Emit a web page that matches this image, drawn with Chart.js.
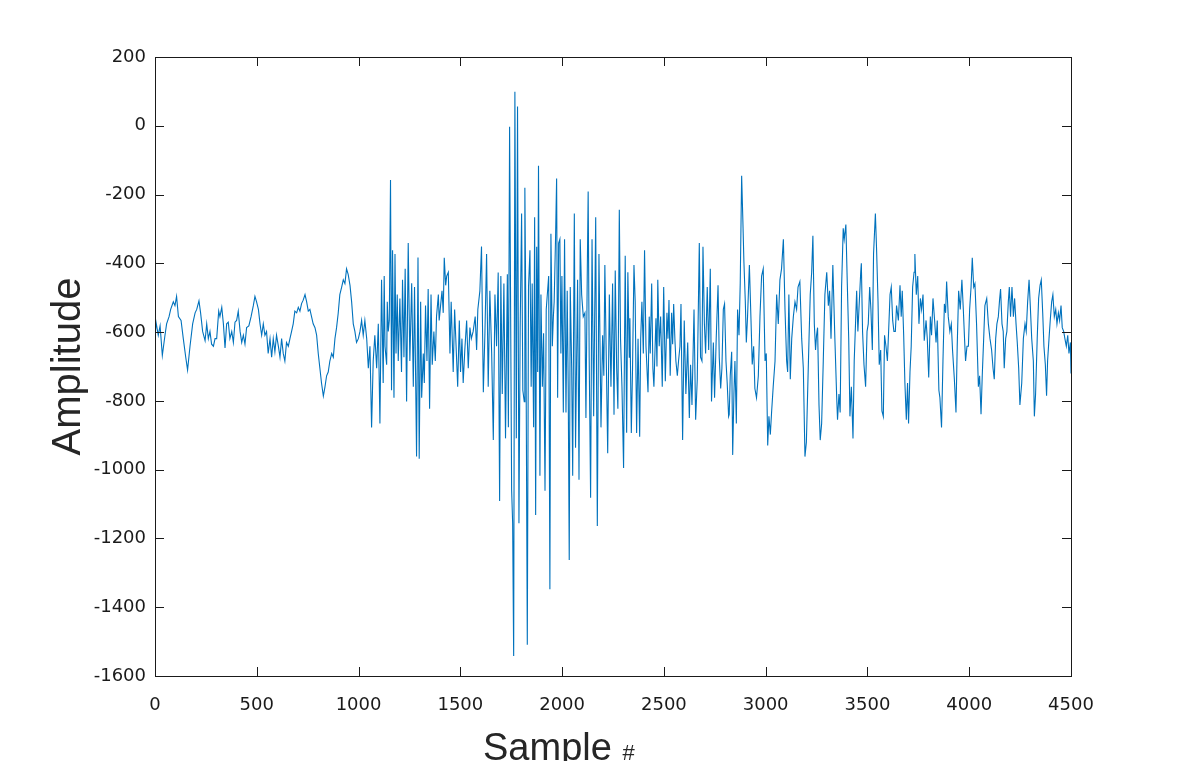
<!DOCTYPE html>
<html>
<head>
<meta charset="utf-8">
<script src="https://cdn.jsdelivr.net/npm/chart.js@4.4.0/dist/chart.umd.min.js"></script>
<style>
  html, body { margin: 0; padding: 0; background: #fff; }
  #wrap { width: 1184px; height: 761px; position: relative; }
</style>
</head>
<body>
<div id="wrap"><canvas id="wave"></canvas></div>
<script>
// waveform turning points (sample index, amplitude)
const sampleIdx = [
  0,5,16,25,36,49,57,69,77,90,98,106,115,128,139,151,160,172,185,197,205,216,224,234,246,254,262,270,278,287,295,303,313,319,328,336,344,352,360,368,377,385,393,401,409,418,426,434,442,450,461,472,483,491,499,508,516,524,532,
  540,548,556,565,573,581,589,597,606,614,622,630,638,646,655,663,671,679,687,696,704,712,720,728,737,745,753,761,769,777,786,794,802,810,818,827,835,843,851,859,868,876,884,892,900,908,917,925,933,941,949,958,966,974,982,990,999,1007,1015,1023,1031,1040,1048,1056,1064,1072,1080,1089,1097,1105,1113,1121,1126,
  1130,1138,1141,1146,1151,1157,1162,1167,1174,1179,1184,1190,1195,1203,1211,1216,1223,1229,1236,1244,1252,1261,1269,1275,1285,1292,1298,1305,1310,1318,1323,1329,1336,1342,1349,1356,1362,1370,1377,1383,1392,1396,1403,1410,1416,1421,1428,1433,1441,1449,1455,1465,1472,1482,1487,1495,1501,1508,1514,1522,1531,1539,1547,1554,1563,1573,1580,1586,1596,1604,1613,1621,1629,1637,1645,1654,1662,1670,1678,1686,1693,
  1699,1706,1714,1722,1731,1736,1742,1752,1757,1762,1768,1775,1781,1788,1794,1801,1807,1814,1817,1822,1829,1835,1842,1848,1853,1860,1865,1870,1875,1880,1884,1891,1896,1903,1909,1916,1922,1934,1940,1945,1952,1957,1961,1968,1973,1978,1983,1989,1994,1999,2006,2012,2019,2025,2030,2035,2040,2047,2052,2060,2066,2076,2083,2089,2096,2104,2112,2117,2124,2128,2133,2140,2147,2155,2165,2173,2181,2191,2199,2205,2210,2224,2232,2240,2248,2255,
  2261,2268,2274,2281,2287,2294,2302,2310,2317,2323,2330,2333,2340,2346,2353,2359,2366,2373,2381,2386,2392,2399,2405,2412,2422,2428,2433,2440,2446,2451,2461,2466,2470,2477,2484,2492,2499,2507,2515,2520,2525,2531,2538,2543,2548,2554,2559,2566,2572,2579,2584,2592,2600,2608,2617,2625,2631,2638,2648,2656,2664,2674,2680,2687,2692,2699,2705,2713,2720,2728,2734,2743,2749,2757,2766,2772,2779,2785,2792,2798,2805,2811,2818,
  2821,2826,2833,2838,2844,2849,2856,2862,2869,2875,2882,2888,2893,2900,2905,2911,2920,2928,2934,2941,2947,2955,2964,2972,2980,2988,2997,3003,3010,3016,3023,3029,3037,3046,3054,3062,3070,3078,3087,3095,3103,3108,3114,3121,3128,3136,3144,3152,3159,3168,3177,3185,3193,3200,3206,3213,3219,3226,3232,3239,3245,3250,3255,3262,3268,3275,3283,3291,3300,3308,3314,3321,3330,3340,3349,3353,3360,3366,3373,3381,3386,
  3394,3401,3408,3414,3421,3429,3435,3442,3447,3453,3460,3467,3470,3476,3483,3491,3498,3504,3511,3517,3524,3530,3539,3545,3552,3558,3565,3571,3578,3584,3591,3598,3604,3611,3617,3624,3630,3637,3643,3652,3660,3666,3671,3678,3684,3691,3697,3702,3709,3715,3722,3729,3733,3740,3747,3753,3760,3766,3773,3779,3788,3794,3801,3809,3815,3822,3830,3837,3843,3851,3856,3864,3871,3878,3884,3889,3897,3905,3912,3918,3927,3935,3941,3948,
  3956,3964,3971,3977,3982,3989,3996,4002,4009,4015,4022,4028,4036,4045,4051,4058,4064,4071,4077,4086,4094,4102,4110,4117,4123,4130,4136,4143,4149,4154,4161,4167,4172,4179,4185,4192,4197,4203,4210,4217,4223,4230,4236,4243,4249,4258,4266,4274,4280,4287,4294,4300,4307,4315,4320,4326,4334,4341,4348,4354,4361,4367,4374,4380,4385,4392,4398,4405,4411,4418,4425,4431,4438,4444,4451,4457,4464,4470,4477,4484,4490,4497,4500
];
const amplitude = [
  -619,-571,-609,-582,-668,-609,-576,-555,-534,-512,-523,-496,-555,-566,-619,-673,-710,-641,-576,-544,-534,-509,-544,-598,-625,-576,-619,-598,-635,-641,-619,-619,-539,-555,-528,-576,-646,-576,-571,-619,-598,-630,-571,-566,-539,-598,-630,-609,-635,-587,-582,-555,-523,-496,-512,-534,-576,-609,-576,
  -609,-598,-662,-619,-673,-619,-657,-609,-641,-673,-619,-662,-684,-630,-641,-619,-598,-576,-539,-544,-528,-539,-517,-507,-491,-512,-539,-534,-555,-576,-587,-609,-662,-705,-748,-786,-759,-727,-716,-684,-662,-673,-619,-587,-545,-491,-469,-448,-459,-416,-432,-464,-512,-576,-598,-630,-619,-598,-566,-609,-566,-619,-705,-641,-877,-684,-609,-705,-576,-866,-448,-748,-437,
  -641,-695,-512,-598,-566,-158,-769,-362,-791,-373,-662,-491,-684,-502,-716,-448,-673,-416,-802,-341,-684,-458,-759,-469,-962,-383,-968,-512,-791,-662,-748,-523,-684,-475,-823,-491,-695,-598,-684,-555,-491,-566,-523,-480,-544,-384,-464,-437,-426,-662,-512,-716,-534,-684,-759,-566,-716,-619,-748,-652,-566,-705,-587,-619,-598,-555,-652,-534,-480,-351,-775,-598,-373,-759,-480,-662,-914,-491,-641,-427,-1091,
  -437,-780,-459,-909,-432,-877,-3,-1059,-1156,-1542,99,-909,56,-1156,-587,-255,-769,-802,-180,-566,-1509,-469,-362,-759,-459,-877,-266,-1132,-352,-716,-116,-1018,-491,-759,-603,-1061,-534,-437,-1348,-314,-641,-555,-512,-320,-153,-791,-341,-330,-662,-437,-834,-330,-834,-480,-759,-1263,-469,-705,-1018,-255,-936,-448,-1029,-330,-491,-555,-544,-850,-405,-191,-673,-1082,-330,-845,-266,-1164,-373,-877,-609,-727,-405,-952,-491,-759,-459,-840,
  -421,-705,-823,-244,-619,-759,-995,-378,-893,-426,-673,-560,-893,-705,-405,-512,-893,-619,-904,-619,-512,-662,-362,-641,-775,-555,-662,-459,-705,-759,-560,-700,-448,-641,-555,-759,-469,-743,-544,-619,-507,-727,-544,-635,-518,-619,-684,-727,-684,-641,-518,-914,-566,-780,-630,-850,-695,-812,-534,-855,-737,-341,-673,-684,-352,-576,-662,-469,-652,-416,-802,-630,-791,-619,-464,-673,-764,-705,-534,-518,-684,-748,-845,
  -839,-727,-657,-957,-780,-684,-866,-534,-609,-459,-145,-276,-394,-512,-630,-555,-405,-566,-694,-641,-764,-791,-727,-555,-437,-416,-684,-662,-930,-845,-898,-834,-759,-684,-491,-576,-448,-416,-330,-534,-684,-716,-491,-737,-619,-555,-512,-534,-469,-453,-619,-705,-962,-920,-780,-619,-491,-426,-320,-576,-652,-609,-587,-812,-914,-866,-684,-491,-426,-523,-480,-619,-405,-619,-791,-855,-780,-834,-469,-298,-330,
  -287,-459,-619,-845,-759,-909,-684,-566,-480,-598,-512,-426,-400,-598,-695,-759,-598,-576,-469,-534,-652,-373,-255,-362,-512,-695,-652,-829,-845,-609,-641,-684,-598,-491,-469,-566,-598,-598,-523,-566,-464,-555,-480,-609,-748,-855,-748,-866,-716,-641,-469,-426,-373,-491,-437,-576,-502,-534,-491,-625,-566,-619,-732,-555,-609,-502,-566,-630,-566,-769,-791,-877,-684,-518,-544,-453,-555,-598,-576,-652,-737,-834,-641,-480,
  -534,-448,-534,-619,-684,-641,-641,-534,-469,-384,-469,-459,-576,-759,-727,-839,-727,-619,-523,-502,-576,-619,-652,-705,-737,-619,-576,-555,-507,-475,-576,-598,-705,-619,-598,-512,-469,-555,-469,-555,-502,-576,-630,-705,-812,-748,-619,-576,-598,-512,-448,-523,-619,-684,-845,-780,-619,-502,-464,-448,-544,-641,-695,-785,-684,-619,-566,-512,-491,-555,-534,-576,-544,-566,-523,-587,-598,-619,-641,-609,-662,-630,-720
];
const xTicks = [0, 500, 1000, 1500, 2000, 2500, 3000, 3500, 4000, 4500];
const yTicks = [-1600, -1400, -1200, -1000, -800, -600, -400, -200, 0, 200];

const points = sampleIdx.map((s, i) => ({ x: s, y: amplitude[i] }));
const ink = '#1a1a1a';

// MATLAB style box with inward ticks plus the two axis titles
const frame = {
  id: 'frame',
  afterDraw(chart) {
    const { ctx, chartArea: a, scales } = chart;
    ctx.save();
    ctx.strokeStyle = ink;
    ctx.lineWidth = 1;
    ctx.strokeRect(a.left + 0.5, a.top + 0.5, a.right - a.left, a.bottom - a.top);
    ctx.beginPath();
    xTicks.forEach(v => {
      const px = Math.round(scales.x.getPixelForValue(v)) + 0.5;
      ctx.moveTo(px, a.bottom); ctx.lineTo(px, a.bottom - 9);
      ctx.moveTo(px, a.top); ctx.lineTo(px, a.top + 9);
    });
    yTicks.forEach(v => {
      const py = Math.round(scales.y.getPixelForValue(v)) + 0.5;
      ctx.moveTo(a.left, py); ctx.lineTo(a.left + 9, py);
      ctx.moveTo(a.right, py); ctx.lineTo(a.right - 9, py);
    });
    ctx.stroke();

    ctx.fillStyle = '#262626';
    ctx.save();
    ctx.translate(a.left - 86, (a.top + a.bottom) / 2);
    ctx.rotate(-Math.PI / 2);
    ctx.font = '40px "Liberation Sans", Arial, sans-serif';
    ctx.textAlign = 'center';
    ctx.textBaseline = 'middle';
    ctx.fillText('Amplitude', 0, 0);
    ctx.restore();

    ctx.textBaseline = 'alphabetic';
    ctx.textAlign = 'left';
    ctx.font = '38px "Liberation Sans", Arial, sans-serif';
    const x0 = 483, base = a.bottom + 84;
    ctx.fillText('Sample', x0, base);
    const w = ctx.measureText('Sample ').width;
    ctx.font = '22px "Liberation Sans", Arial, sans-serif';
    ctx.fillText('#', x0 + w, base);
    ctx.restore();
  }
};

const tickFont = { family: '"DejaVu Sans", sans-serif', size: 18 };

new Chart(document.getElementById('wave'), {
  type: 'scatter',
  data: {
    datasets: [{
      data: points,
      showLine: true,
      borderColor: '#0072BD',
      borderWidth: 1.1,
      pointRadius: 0,
      tension: 0
    }]
  },
  options: {
    responsive: true,
    maintainAspectRatio: false,
    animation: false,
    layout: { padding: { top: 57, right: 113, left: 0, bottom: 0 } },
    plugins: { legend: { display: false }, tooltip: { enabled: false } },
    scales: {
      x: {
        type: 'linear',
        min: 0, max: 4500,
        afterFit: s => { s.height = 85; },
        afterBuildTicks: s => { s.ticks = xTicks.map(v => ({ value: v })); },
        grid: { display: false, drawTicks: false },
        border: { display: false },
        ticks: { padding: 19, color: ink, font: tickFont, maxRotation: 0, callback: v => String(v) }
      },
      y: {
        type: 'linear',
        min: -1600, max: 200,
        afterFit: s => { s.width = 155; },
        afterBuildTicks: s => { s.ticks = yTicks.map(v => ({ value: v })); },
        grid: { display: false, drawTicks: false },
        border: { display: false },
        ticks: { padding: 9, color: ink, font: tickFont, callback: v => String(v) }
      }
    }
  },
  plugins: [frame]
});
</script>
</body>
</html>
